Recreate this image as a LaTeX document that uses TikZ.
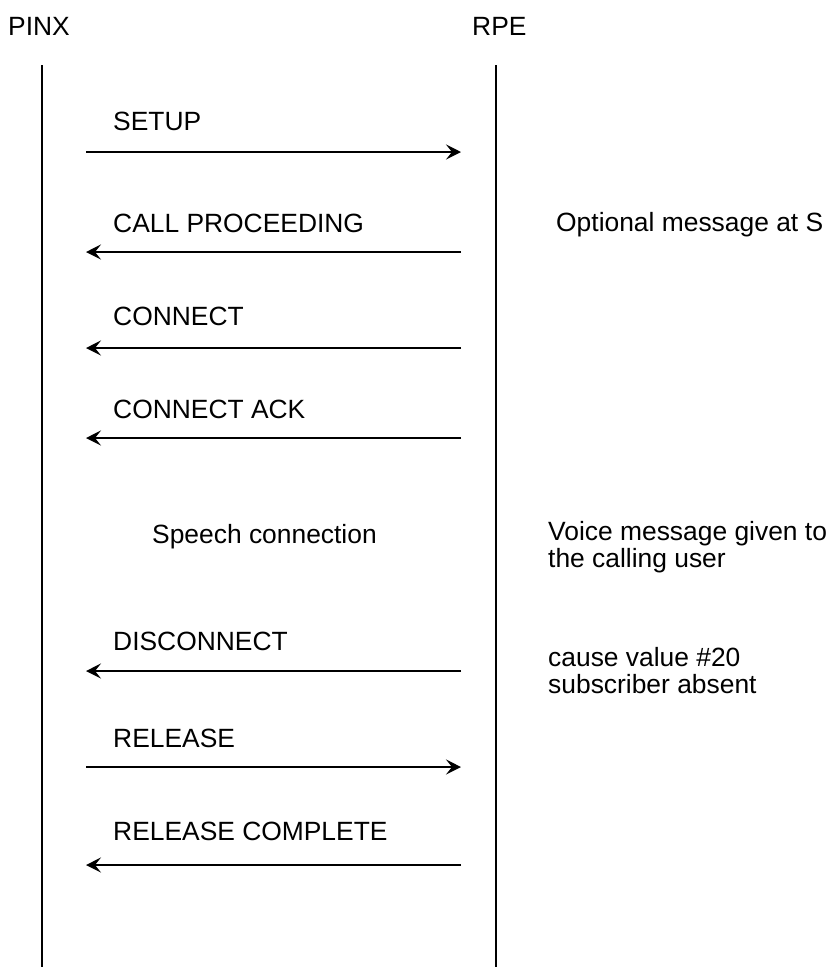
\documentclass[tikz,border=0pt]{standalone}
\usepackage{fontspec}
\setmainfont{Liberation Sans}
\usetikzlibrary{arrows.meta}
\begin{document}
\begin{tikzpicture}[x=1pt,y=-1pt,
  lbl/.style={anchor=base west,font=\fontsize{26.4}{27}\selectfont,inner sep=0pt},
  note/.style={anchor=base west,font=\fontsize{26.4}{26.5}\selectfont,inner sep=0pt,align=left},
  life/.style={line width=2pt},
  msg/.style={line width=1.8pt,-{Stealth[length=15pt,width=15pt,inset=6pt]}}]
\useasboundingbox (0,0) rectangle (835,967);
\node[lbl] (pinx) at (8,35) {PINX};
\node[lbl] (rpe) at (472,35) {RPE};
\coordinate (lt) at (42,65);
\coordinate (lb) at (42,967);
\coordinate (rt) at (496,65);
\coordinate (rb) at (496,967);
\draw[life] (lt) -- (lb);
\draw[life] (rt) -- (rb);
% message endpoints
\foreach \n/\y in {1/152,2/252,3/348,4/438,5/671,6/767,7/865}{
  \coordinate (L\n) at (86,\y);
  \coordinate (R\n) at (461,\y);
}
\draw[msg] (L1) -- (R1);
\draw[msg] (R2) -- (L2);
\draw[msg] (R3) -- (L3);
\draw[msg] (R4) -- (L4);
\draw[msg] (R5) -- (L5);
\draw[msg] (L6) -- (R6);
\draw[msg] (R7) -- (L7);
\node[lbl] (m1) at (113,130) {SETUP};
\node[lbl] (m2) at (113,232) {CALL PROCEEDING};
\node[lbl] (m3) at (113,325) {CONNECT};
\node[lbl] (m4) at (113,418) {CONNECT ACK};
\node[lbl] (sp) at (152,543) {Speech connection};
\node[lbl] (m5) at (113,650) {DISCONNECT};
\node[lbl] (m6) at (113,747) {RELEASE};
\node[lbl] (m7) at (113,840) {RELEASE COMPLETE};
\node[lbl] (n1) at (556,231) {Optional message at S};
\node[note] (n2) at (548,567) {Voice message given to\\the calling user};
\node[note] (n3) at (548,693) {cause value \#20\\subscriber absent};
\end{tikzpicture}
\end{document}
